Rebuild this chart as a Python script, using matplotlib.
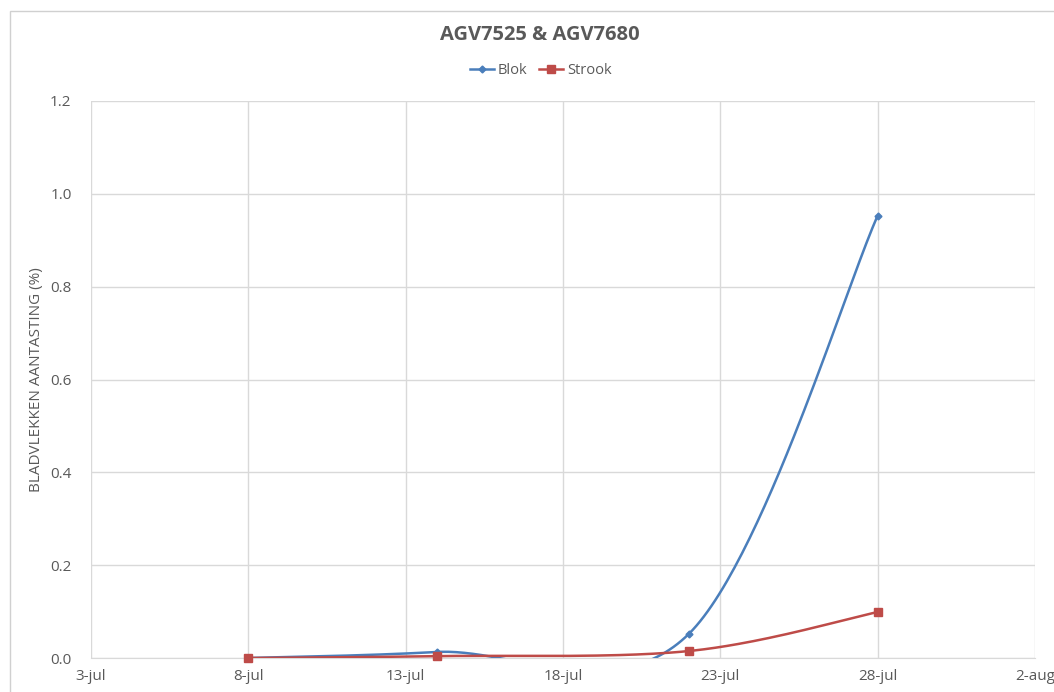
import numpy as np
import matplotlib
matplotlib.use("Agg")
import matplotlib.pyplot as plt
import matplotlib.dates as mdates
from matplotlib.patches import Rectangle
from datetime import date

# Observation dates and leaf-spot infection (%)
dates = [date(2019, 7, 8), date(2019, 7, 14), date(2019, 7, 22), date(2019, 7, 28)]
blok = [0.0, 0.013, 0.052, 0.953]
strook = [0.0, 0.004, 0.015, 0.099]

tick_dates = [date(2019, 7, 3), date(2019, 7, 8), date(2019, 7, 13), date(2019, 7, 18),
              date(2019, 7, 23), date(2019, 7, 28), date(2019, 8, 2)]
tick_labels = ["3-jul", "8-jul", "13-jul", "18-jul", "23-jul", "28-jul", "2-aug"]
y_ticks = [0.0, 0.2, 0.4, 0.6, 0.8, 1.0, 1.2]

title = "AGV7525 & AGV7680"
y_label = "BLADVLEKKEN AANTASTING (%)"

BLUE = "#4A7EBB"
RED = "#BE4B48"
GRID = "#D9D9D9"
TEXT = "#595959"

plt.rcParams["font.family"] = ["Open Sans", "DejaVu Sans"]


def smooth(xs, ys, n=60):
    """Cubic Bezier smoothing through the points (Catmull-Rom style)."""
    xs = np.asarray(xs, float)
    ys = np.asarray(ys, float)
    px = np.concatenate([[xs[0]], xs, [xs[-1]]])
    py = np.concatenate([[ys[0]], ys, [ys[-1]]])
    out_x, out_y = [], []
    t = np.linspace(0, 1, n)
    for i in range(1, len(px) - 2):
        p0 = np.array([px[i], py[i]])
        p3 = np.array([px[i + 1], py[i + 1]])
        c1 = p0 + (np.array([px[i + 1], py[i + 1]]) - np.array([px[i - 1], py[i - 1]])) / 6
        c2 = p3 - (np.array([px[i + 2], py[i + 2]]) - np.array([px[i], py[i]])) / 6
        b = ((1 - t) ** 3)[:, None] * p0 + (3 * (1 - t) ** 2 * t)[:, None] * c1 \
            + (3 * (1 - t) * t ** 2)[:, None] * c2 + (t ** 3)[:, None] * p3
        out_x.extend(b[:, 0])
        out_y.extend(b[:, 1])
    return np.array(out_x), np.array(out_y)


fig = plt.figure(figsize=(10.54, 6.92), dpi=100)
W, H = 1054, 692

# outer chart frame
fig.patches.append(Rectangle((10 / W, -0.1), 1.2, (692 - 11) / H + 0.1,
                             transform=fig.transFigure, fill=False,
                             edgecolor="#D0D0D0", linewidth=1.0))

ax = fig.add_axes([91 / W, 1 - 658 / H, (1035 - 91) / W, (658 - 101) / H])

xn = mdates.date2num(dates)
for vals, color, marker, ms, label in [
    (blok, BLUE, "D", 3.5, "Blok"),
    (strook, RED, "s", 5.5, "Strook"),
]:
    sx, sy = smooth(xn, vals)
    ax.plot(sx, sy, color=color, linewidth=1.8, solid_capstyle="round", zorder=3)
    ax.plot(xn, vals, linestyle="none", marker=marker, markersize=ms,
            color=color, zorder=4, clip_on=False)
    ax.plot([], [], color=color, linewidth=1.8, marker=marker, markersize=ms, label=label)

ax.set_xlim(mdates.date2num(tick_dates[0]), mdates.date2num(tick_dates[-1]))
ax.set_ylim(0, 1.2)
ax.set_xticks(mdates.date2num(tick_dates))
ax.set_xticklabels(tick_labels)
ax.set_yticks(y_ticks)
ax.set_yticklabels([f"{v:.1f}" for v in y_ticks])

ax.grid(True, color=GRID, linewidth=1.0)
ax.set_axisbelow(True)
for side in ["top", "right", "left"]:
    ax.spines[side].set_visible(False)
ax.spines["bottom"].set_color(GRID)
ax.tick_params(axis="both", length=0, colors=TEXT, labelsize=11)
ax.tick_params(axis="x", pad=8)
ax.tick_params(axis="y", pad=14)

ax.set_ylabel(y_label, color=TEXT, fontsize=11, labelpad=4)

fig.text(540 / W, 1 - 35 / H, title, ha="center", va="center",
         fontsize=14.5, fontweight="bold", color=TEXT)

fig.legend(loc="center", bbox_to_anchor=(541 / W, 1 - 71 / H), ncol=2,
           frameon=False, fontsize=10.5, labelcolor=TEXT,
           handlelength=1.6, handletextpad=0.3, columnspacing=0.8)

fig.savefig("out.png", dpi=100)
